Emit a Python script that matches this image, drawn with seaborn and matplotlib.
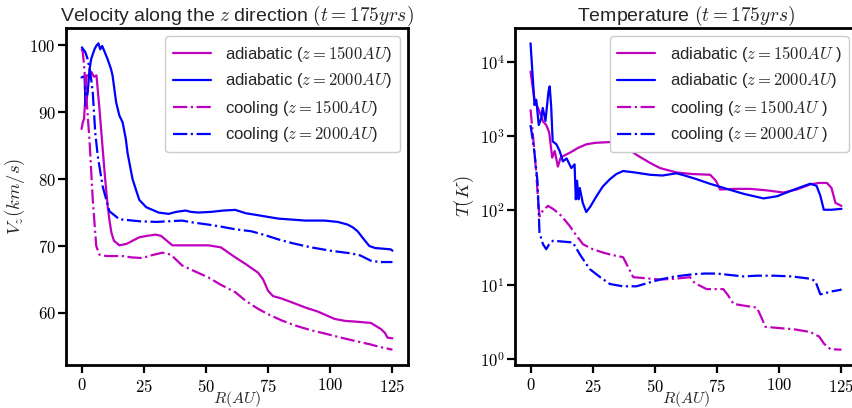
import numpy as np
import pandas as pd
import matplotlib
matplotlib.use("Agg")
import matplotlib.pyplot as plt
import seaborn as sns
from matplotlib.ticker import FuncFormatter, NullLocator, FixedLocator

# ---------------- data: left panel (V_z, km/s) ----------------
r_vad1500 = [0, 0.5, 1, 1.5, 2, 3, 4, 5, 6, 7.2, 8.5, 9.5, 10.5, 11.2, 12, 13, 15.2, 18, 23.2, 26,
             29.8, 32, 36.5, 45, 51, 56, 61.8, 66, 71, 73, 75, 77, 80, 84.4, 90, 95, 101.7, 106,
             110, 116.3, 120.3, 122, 123, 125]
v_vad1500 = [87.5, 88.5, 89, 92, 95.5, 95.5, 96, 95.3, 95.5, 90.5, 84.5, 80, 76, 73.9, 72, 70.8,
             70.1, 70.3, 71.3, 71.5, 71.7, 71.5, 70.1, 70.1, 70.1, 69.8, 68.3, 67.3, 66, 65, 63.3,
             62.5, 62.2, 61.6, 60.8, 60.2, 59.1, 58.8, 58.7, 58.5, 57.6, 57.0, 56.3, 56.2]

r_vad2000 = [0, 1.2, 1.6, 2.5, 3.2, 3.9, 5.2, 5.9, 6.8, 7.5, 8.3, 9.2, 10.5, 11.9, 12.5, 13.9, 15.2,
             16.5, 17.8, 18.5, 20.5, 23.2, 26, 31, 35, 38, 41.8, 44, 47, 52, 57, 61.8, 66, 71, 79,
             90, 97.7, 103, 107, 109, 111, 113.5, 115.7, 118, 124.3, 125]
v_vad2000 = [95.2, 95.4, 91, 93, 96.4, 98, 99.4, 99.9, 100.3, 99.4, 99.9, 99.1, 97.9, 96.4, 95.4,
             91.5, 89.5, 88.5, 86, 83.9, 80, 76.9, 75.8, 75, 74.8, 75.1, 75.3, 75.1, 75.0, 75.1,
             75.3, 75.4, 74.9, 74.6, 74.1, 73.8, 73.8, 73.6, 73.2, 72.8, 72.2, 71, 70, 69.7, 69.5,
             69.3]

r_vco1500 = [0, 0.5, 1, 2, 3.2, 4.5, 5.9, 7.2, 10, 16.4, 20, 24.4, 28, 32.5, 35, 36.5, 40.4, 45, 51,
             56, 61.8, 66, 71, 75, 80.3, 86, 92.3, 98, 104.3, 110, 116, 120, 125]
v_vco1500 = [99.5, 99, 97, 92, 85.8, 77, 70, 68.7, 68.5, 68.5, 68.3, 68.2, 68.6, 69, 68.8, 68.5,
             67.1, 66.3, 65.3, 64.2, 63.1, 61.8, 60.6, 59.8, 58.9, 58.1, 57.4, 56.9, 56.3, 55.8,
             55.3, 54.9, 54.5]

r_vco2000 = [0, 0.5, 1.5, 2.4, 3.5, 4.5, 5.5, 6.5, 8.5, 11.2, 15.2, 23.2, 30, 40.4, 45, 51, 56, 61.8,
             68.3, 74, 79, 85, 92.3, 100, 108.3, 112, 116.3, 120, 125]
v_vco2000 = [99.8, 99.5, 99, 98, 96, 93, 87, 83.5, 78.9, 75.2, 74, 73.7, 73.6, 73.8, 73.5, 73.2,
             72.9, 72.5, 72.2, 71.6, 71, 70.4, 69.8, 69.3, 68.9, 68.6, 67.8, 67.6, 67.6]

# ---------------- data: right panel (T, K) ----------------
r_tad1500 = [0, 1.6, 3.6, 5, 6.3, 7.5, 8.7, 9.7, 11, 12, 13, 16, 19, 22.4, 26, 31.9, 35, 38.6, 43,
             48, 52, 58.7, 65, 72.2, 74.5, 76.2, 82, 88.3, 95, 101.7, 107, 112.5, 116, 119.2, 121,
             122.6, 125]
t_tad1500 = [7413, 3090, 2138, 1585, 1413, 1122, 513, 631, 389, 501, 537, 603, 692, 776, 813, 832,
             776, 692, 550, 437, 372, 324, 309, 302, 251, 191, 195, 195, 186, 174, 191, 224, 234,
             234, 200, 126, 115]

r_tad2000 = [0, 1.6, 2.3, 3.3, 4.3, 4.9, 6, 7.2, 7.7, 8.3, 8.9, 10.4, 11.7, 13, 14.5, 16.4, 17.7,
             18.2, 18.7, 19.3, 19.8, 21, 22.4, 24, 26.5, 29, 31.9, 34.5, 37.2, 42, 48, 53, 58.7, 62,
             66.8, 72, 78.9, 86, 93.7, 99.1, 106, 112.5, 115, 116.5, 117.9, 121, 125]
t_tad2000 = [17800, 2630, 3090, 1413, 1738, 2399, 1600, 3981, 4677, 2500, 851, 776, 631, 457, 501,
             372, 417, 141, 251, 141, 200, 126, 95, 112, 155, 209, 263, 309, 339, 324, 302, 295,
             316, 295, 263, 229, 195, 166, 145, 155, 191, 229, 214, 158, 102, 102, 105]

r_tco1500 = [0, 1, 2.3, 3, 3.6, 5, 7, 9, 11.7, 13.5, 15.7, 18, 21.1, 25, 29.2, 33, 37.2, 39, 41.3,
             45, 52, 58, 64.1, 66, 70.8, 75, 77.5, 79.5, 81.6, 86, 91, 93, 94.4, 100, 106, 112.5,
             116, 118, 120.6, 125]
t_tco1500 = [2291, 1000, 316, 141, 83, 100, 115, 105, 89, 76, 62, 48, 35, 30, 27, 25, 23.4, 17.8,
             12.6, 12.3, 11.7, 12.0, 12.6, 10.5, 8.7, 8.7, 8.7, 7.1, 5.5, 5.2, 4.9, 3.5, 2.7, 2.6,
             2.5, 2.3, 2.0, 1.6, 1.35, 1.33]

r_tco2000 = [0, 1.5, 2.8, 3.6, 5, 6.3, 7.5, 9, 13, 17, 20, 23.8, 28, 31.9, 37, 42.6, 47, 52, 58,
             65.4, 70, 74.9, 80, 85.6, 91, 97.7, 105, 112.5, 114.5, 116.5, 118, 121, 124.6, 125]
t_tco2000 = [1413, 631, 245, 50, 35, 30, 35, 39, 38, 37, 25, 16.2, 12.6, 10.2, 9.5, 9.5, 10.5, 11.7,
             12.9, 13.8, 14.1, 14.1, 13.5, 12.9, 13.2, 13.2, 12.9, 12.0, 11.2, 7.4, 7.6, 8.1, 8.5,
             8.7]

labels_left = [r"adiabatic ($z=1500AU$)", r"adiabatic ($z=2000AU$)",
               r"cooling ($z=1500AU$)", r"cooling ($z=2000AU$)"]
labels_right = [r"adiabatic ($z=1500AU$ )", r"adiabatic ($z=2000AU$)",
                r"cooling ($z=1500AU$ )", r"cooling ($z=2000AU$ )"]

# ---------------- style ----------------
sns.set_style("ticks")
plt.rcParams["font.family"] = ["Liberation Sans", "DejaVu Sans"]
plt.rcParams["mathtext.fontset"] = "cm"
plt.rcParams["axes.linewidth"] = 2.0
plt.rcParams["xtick.major.width"] = 1.6
plt.rcParams["ytick.major.width"] = 1.6
plt.rcParams["xtick.major.size"] = 6
plt.rcParams["ytick.major.size"] = 6
plt.rcParams["xtick.color"] = "black"
plt.rcParams["ytick.color"] = "black"
plt.rcParams["axes.edgecolor"] = "black"

fig = plt.figure(figsize=(8.52, 4.08), dpi=100)
ax1 = fig.add_axes([66 / 852, 43 / 408, 342 / 852, 337 / 408])
ax2 = fig.add_axes([515 / 852, 43 / 408, 342 / 852, 337 / 408])

LW = 1.6
styles = [("#bf00bf", "-"), ("#0000ff", "-"), ("#bf00bf", "-."), ("#0000ff", "-.")]

left_series = [(r_vad1500, v_vad1500), (r_vad2000, v_vad2000),
               (r_vco1500, v_vco1500), (r_vco2000, v_vco2000)]
right_series = [(r_tad1500, t_tad1500), (r_tad2000, t_tad2000),
                (r_tco1500, t_tco1500), (r_tco2000, t_tco2000)]

for (x, y), (c, ls), lab in zip(left_series, styles, labels_left):
    sns.lineplot(x=x, y=y, ax=ax1, color=c, linestyle=ls, lw=LW, label=lab, sort=False)
for (x, y), (c, ls), lab in zip(right_series, styles, labels_right):
    sns.lineplot(x=x, y=y, ax=ax2, color=c, linestyle=ls, lw=LW, label=lab, sort=False)

mfmt = FuncFormatter(lambda v, p: r"$%g$" % v)
for ax in (ax1, ax2):
    ax.set_xticks([0, 25, 50, 75, 100, 125])
    ax.xaxis.set_major_formatter(mfmt)
    ax.tick_params(labelsize=12)
    ax.tick_params(axis="x", pad=3)
    ax.tick_params(axis="y", pad=1.5)
    ax.set_xlabel(r"$R(AU)$", fontsize=11.5)
    ax.xaxis.set_label_coords(0.5, -0.072)

ax1.set_yticks([60, 70, 80, 90, 100])
ax1.yaxis.set_major_formatter(mfmt)
ax1.set_ylabel(r"$V_z(km/s)$", fontsize=13.5)
ax1.set_title(r"Velocity along the $z$ direction $(t=175yrs)$", fontsize=14, pad=5)

ax2.set_yscale("log")
ax2.yaxis.set_major_locator(FixedLocator([1, 10, 100, 1000, 10000]))
ax2.yaxis.set_minor_locator(NullLocator())
ax2.yaxis.set_major_formatter(FuncFormatter(lambda v, p: r"$10^{%d}$" % round(np.log10(v))))
ax2.set_ylabel(r"$T(K)$", fontsize=13.5)
ax2.set_title(r"Temperature $(t=175yrs)$", fontsize=14, pad=5)

for ax in (ax1, ax2):
    ax.yaxis.set_label_coords(-0.114, 0.5)
    leg = ax.legend(loc="upper right", fontsize=12, frameon=True, fancybox=True,
                    edgecolor="#cccccc", framealpha=1.0, handlelength=2.3,
                    handletextpad=0.85, labelspacing=0.45, borderpad=0.45)
    leg.get_frame().set_linewidth(1.0)

fig.savefig("out.png", dpi=100)
